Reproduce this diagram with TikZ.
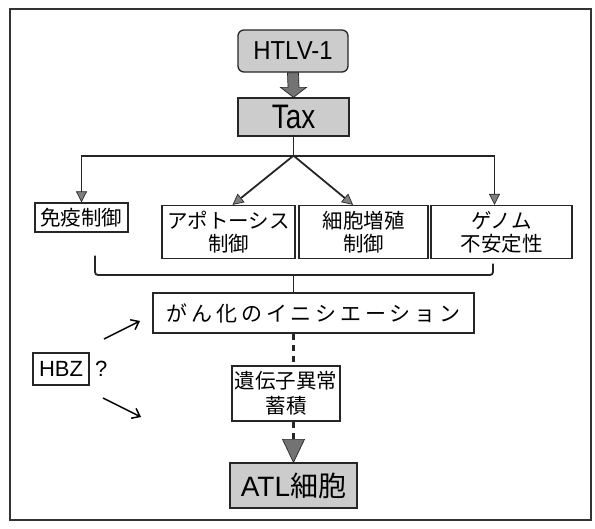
\documentclass[tikz,border=0pt]{standalone}
\usepackage{fontspec}
\setmainfont{Liberation Sans}
\newfontfamily\jp{Noto Sans CJK JP}
\usetikzlibrary{arrows.meta,calc}
\begin{document}
\begin{tikzpicture}[x=1pt,y=-1pt,
  box/.style={draw=black!85,line width=1.3pt,inner sep=0pt,align=center},
  graybox/.style={box,fill=black!20},
  jtext/.style={font=\jp\fontsize{20.5}{23}\selectfont},
  branch/.style={draw=black!85,line width=1.8pt},
  tri/.style={-{Triangle[length=11pt,width=11pt,fill=black!50,line width=0.7pt]}},
  dashline/.style={draw=black!85,line width=3pt,dash pattern=on 6pt off 5pt},
  bigtip/.style={fill=black!55,draw=black!85,line width=0.7pt},
  openarrow/.style={line width=1.5pt,-{Straight Barb[length=7pt,width=11pt]}}
]
\useasboundingbox (0,0) rectangle (595,528);
\draw[line width=1.3pt,black!80] (10,9) rectangle (591,520);

\node[graybox,rounded corners=6pt,minimum width=110pt,minimum height=42pt,font=\fontsize{26}{30}\selectfont] (htlv) at (293,51) {\scalebox{0.92}[1]{HTLV-1}};
\node[graybox,minimum width=111pt,minimum height=38pt,font=\fontsize{34}{38}\selectfont] (tax) at (293.5,117) {\scalebox{0.82}[1]{Tax}};
\node[box,jtext,minimum width=93pt,minimum height=29pt] (men) at (81.5,217.5) {免疫制御};
\node[box,jtext,minimum width=133pt,minimum height=53pt] (apo) at (228.5,232) {アポトーシス\\制御};
\node[box,jtext,minimum width=129pt,minimum height=53pt] (cell) at (363.5,232) {細胞増殖\\制御};
\node[box,jtext,minimum width=141pt,minimum height=53pt] (gen) at (501.5,232) {ゲノム\\不安定性};
\node[box,minimum width=321pt,minimum height=40pt,font=\jp\fontsize{21}{24}\selectfont\addfontfeature{LetterSpace=18}] (gan) at (313.5,313) {がん化のイニシエーション};
\node[box,font=\jp\fontsize{20.5}{25}\selectfont,minimum width=108pt,minimum height=55pt] (iden) at (286,393.5) {遺伝子異常\\蓄積};
\node[graybox,minimum width=127pt,minimum height=45pt,font=\fontsize{28}{32}\selectfont] (atl) at (293.5,485.5) {ATL{\jp 細胞}};
\node[box,minimum width=56pt,minimum height=32pt,font=\fontsize{22}{26}\selectfont] (hbz) at (61,369) {HBZ};
\node[font=\fontsize{22}{26}\selectfont,anchor=west,inner sep=0pt] (q) at (95,369) {?};

% thick arrow HTLV-1 -> Tax
\filldraw[bigtip]
  ($(htlv.south)+(-5.5,0)$) -- ($(tax.north)+(-5.5,-10)$) -- ($(tax.north)+(-13,-10)$)
  -- (tax.north) -- ($(tax.north)+(13,-10)$) -- ($(tax.north)+(5.5,-10)$)
  -- ($(htlv.south)+(5.5,0)$) -- cycle;

% branches
\coordinate (j) at ($(tax.south)+(0,19)$);
\draw[branch] (tax.south) -- (j);
\draw[branch,tri] (j) -| (men.north);
\draw[branch,tri] (j) -| ($(gen.north)+(-7,0)$);
\draw[branch,tri] (j) -- ($(apo.north west)!0.53!(apo.north east)$);
\draw[branch,tri] (j) -- ($(cell.north west)!0.42!(cell.north east)$);

% bracket
\coordinate (bl) at ($(men.south)+(13.5,23)$);
\coordinate (br) at ($(gen.south)+(-8.5,4.5)$);
\coordinate (bm) at (tax.south |- 0,275);
\draw[branch,rounded corners=3pt] (bl) -- (bl |- bm) -| (br);
\draw[branch] (bm) -- (bm |- gan.north);

% dashed path
\draw[dashline] (tax.south |- gan.south) -- (tax.south |- iden.north);
\draw[dashline] (tax.south |- iden.south) -- ($(atl.north)+(0,-22)$);
\filldraw[bigtip] ($(atl.north)+(-11,-23)$) -- ($(atl.north)+(11,-23)$) -- (atl.north) -- cycle;

% HBZ arrows
\coordinate (u1) at (104,339);
\coordinate (u2) at (140,321);
\coordinate (d1) at (103,398);
\coordinate (d2) at (141,417);
\draw[openarrow] (u1) -- (u2);
\draw[openarrow] (d1) -- (d2);
\end{tikzpicture}
\end{document}
